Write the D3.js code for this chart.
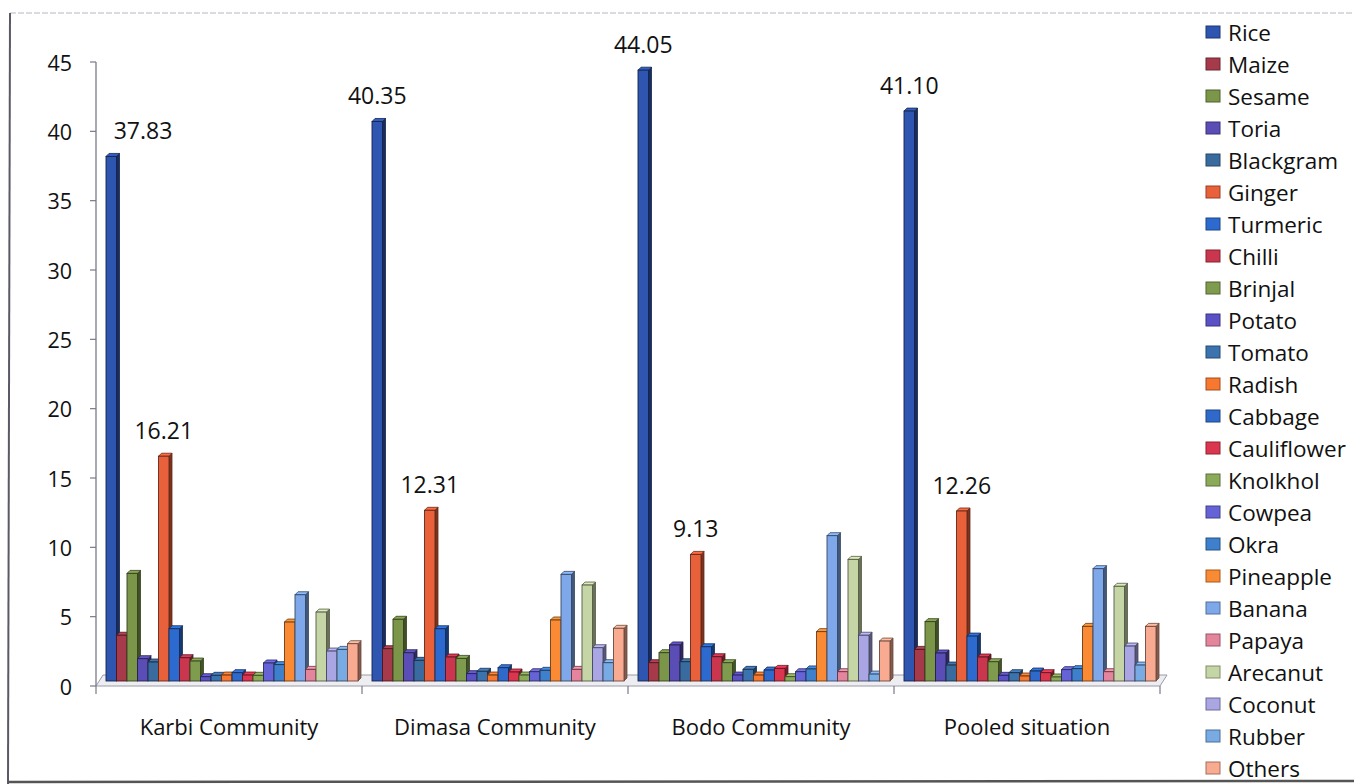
<!DOCTYPE html>
<html>
<head>
<meta charset="utf-8">
<script src="https://cdn.jsdelivr.net/npm/d3@7"></script>
<style>
  html, body { margin: 0; padding: 0; background: #fff; }
  svg { display: block; }
  text { font-family: "Open Sans", "Noto Sans", sans-serif; fill: #111; }
</style>
</head>
<body>
<svg id="chart" width="1354" height="784"></svg>
<script>
// Share of cropped area by crop (%), for each community and the pooled sample
const categories = ["Karbi Community", "Dimasa Community", "Bodo Community", "Pooled situation"];

const crops = ["Rice", "Maize", "Sesame", "Toria", "Blackgram", "Ginger", "Turmeric", "Chilli",
  "Brinjal", "Potato", "Tomato", "Radish", "Cabbage", "Cauliflower", "Knolkhol", "Cowpea",
  "Okra", "Pineapple", "Banana", "Papaya", "Arecanut", "Coconut", "Rubber", "Others"];

const cropColors = ["#2e55b0", "#a63a4a", "#7b9648", "#5a4db5", "#3a6b9e", "#e8613a", "#2c6acf", "#c9364e",
  "#7e9b4e", "#5b51c4", "#3c72ae", "#f7782e", "#2f6acb", "#dc3550", "#8cab59", "#6663d6",
  "#3f80cc", "#fa8a33", "#7ea8ea", "#e4849d", "#c6d5a5", "#a9a6e3", "#78aae4", "#f9ab92"];

const karbi  = [37.83, 3.30, 7.76, 1.61, 1.37, 16.21, 3.77, 1.68, 1.44, 0.31, 0.41, 0.43,
  0.60, 0.43, 0.41, 1.30, 1.18, 4.25, 6.22, 0.84, 4.97, 2.16, 2.28, 2.69];
const dimasa = [40.35, 2.33, 4.45, 2.04, 1.49, 12.31, 3.77, 1.73, 1.63, 0.53, 0.70, 0.43,
  0.96, 0.65, 0.43, 0.67, 0.77, 4.40, 7.69, 0.84, 6.92, 2.40, 1.32, 3.80];
const bodo   = [44.05, 1.32, 2.04, 2.60, 1.39, 9.13, 2.47, 1.75, 1.32, 0.43, 0.84, 0.43,
  0.79, 0.91, 0.31, 0.67, 0.87, 3.56, 10.48, 0.67, 8.77, 3.30, 0.50, 2.88];
const pooled = [41.10, 2.28, 4.28, 2.02, 1.15, 12.26, 3.24, 1.73, 1.39, 0.41, 0.60, 0.36,
  0.72, 0.60, 0.29, 0.82, 0.89, 3.94, 8.10, 0.67, 6.83, 2.52, 1.15, 3.94];

const yTicks = [0, 5, 10, 15, 20, 25, 30, 35, 40, 45];
const labelledCrops = ["Rice", "Ginger"];

const seriesByCategory = [karbi, dimasa, bodo, pooled];

// ---- layout ----
const svg = d3.select("#chart");
const axisX = 96;
const lift = 5;      // bars stand mid-way back on the 3-D floor
const depth = 3;     // visible thickness of the bar sides and tops

const y = d3.scaleLinear().domain([0, 45]).range([686, 62]);
const x0 = d3.scaleBand().domain(categories).range([axisX, 1160]);
const x1 = d3.scaleBand().domain(crops).range([10, 262]);
const color = d3.scaleOrdinal().domain(crops).range(cropColors);

// outer frame
svg.append("line").attr("x1", 10).attr("y1", 13).attr("x2", 1354).attr("y2", 13)
  .attr("stroke", "#b8b8c0").attr("stroke-width", 1.2).attr("stroke-dasharray", "6,2");
svg.append("line").attr("x1", 10).attr("y1", 13).attr("x2", 8).attr("y2", 784)
  .attr("stroke", "#5a5a66").attr("stroke-width", 2);
svg.append("line").attr("x1", 8).attr("y1", 782).attr("x2", 1354).attr("y2", 781)
  .attr("stroke", "#555").attr("stroke-width", 2.5);

// floor of the 3-D plot
const floorPts = [[axisX, 686], [1160, 686], [1167, 675], [axisX + 7, 675]];
svg.append("polygon")
  .attr("points", floorPts.map(p => p.join(",")).join(" "))
  .attr("fill", "#eeeef2").attr("stroke", "#9a9aa8").attr("stroke-width", 1);

// value axis
svg.append("line").attr("x1", axisX).attr("x2", axisX).attr("y1", y(45)).attr("y2", y(0))
  .attr("stroke", "#7a7a88").attr("stroke-width", 1.3);
const yt = svg.append("g");
yt.selectAll("line").data(yTicks).join("line")
  .attr("x1", axisX - 6).attr("x2", axisX).attr("y1", d => y(d)).attr("y2", d => y(d))
  .attr("stroke", "#7a7a88").attr("stroke-width", 1.2);
yt.selectAll("text").data(yTicks).join("text")
  .attr("x", 72).attr("y", d => y(d)).attr("text-anchor", "end")
  .attr("dominant-baseline", "central").attr("font-size", 21.5).text(d => d);

// category axis ticks and labels
const bounds = categories.map(c => x0(c)).concat([x0.range()[1]]);
svg.append("g").selectAll("line").data(bounds).join("line")
  .attr("x1", d => d).attr("x2", d => d).attr("y1", 686).attr("y2", 694)
  .attr("stroke", "#7a7a88").attr("stroke-width", 1.2);
svg.append("g").selectAll("text").data(categories).join("text")
  .attr("x", d => x0(d) + x0.bandwidth() / 2).attr("y", 726)
  .attr("text-anchor", "middle").attr("dominant-baseline", "central")
  .attr("font-size", 22).text(d => d);

// bars with a front face, a shaded side and a lighter top
const bw = x1.bandwidth();
const groups = svg.append("g").selectAll("g").data(categories).join("g")
  .attr("transform", d => `translate(${x0(d)},0)`);

groups.each(function (cat, ci) {
  const vals = seriesByCategory[ci];
  const g = d3.select(this);
  crops.forEach((crop, i) => {
    const v = vals[i];
    const c = d3.color(color(crop));
    const xl = x1(crop);
    const top = y(v) - lift;
    const base = y(0) - lift;
    const edge = c.darker(2.4).formatHex();
    const bar = g.append("g");
    bar.append("polygon")
      .attr("points", [[xl + bw, top], [xl + bw + depth, top - depth], [xl + bw + depth, base - depth], [xl + bw, base]].map(p => p.join(",")).join(" "))
      .attr("fill", c.darker(1.8).formatHex()).attr("stroke", edge).attr("stroke-width", 0.8);
    bar.append("polygon")
      .attr("points", [[xl, top], [xl + depth, top - depth], [xl + bw + depth, top - depth], [xl + bw, top]].map(p => p.join(",")).join(" "))
      .attr("fill", c.brighter(0.3).formatHex()).attr("stroke", edge).attr("stroke-width", 0.8);
    bar.append("rect")
      .attr("x", xl).attr("y", top).attr("width", bw).attr("height", base - top)
      .attr("fill", c.formatHex()).attr("stroke", edge).attr("stroke-width", 0.9);
  });
});

// value labels for rice and ginger
const labelData = [];
categories.forEach((cat, ci) => {
  labelledCrops.forEach(crop => {
    const i = crops.indexOf(crop);
    labelData.push({ cat, crop, v: seriesByCategory[ci][i] });
  });
});
svg.append("g").selectAll("text").data(labelData).join("text")
  .attr("x", d => Math.max(x0(d.cat) + x1(d.crop) + bw / 2, axisX + 47))
  .attr("y", d => y(d.v) - lift - 26)
  .attr("text-anchor", "middle").attr("dominant-baseline", "central")
  .attr("font-size", 23).text(d => d.v.toFixed(2));

// legend
const legend = svg.append("g").attr("transform", "translate(1206,32)");
const rows = legend.selectAll("g").data(crops).join("g")
  .attr("transform", (d, i) => `translate(0,${i * 32})`);
rows.append("rect").attr("x", 0).attr("y", -6).attr("width", 14).attr("height", 12)
  .attr("fill", d => color(d)).attr("stroke", d => d3.color(color(d)).darker(1.2).formatHex())
  .attr("stroke-width", 1);
rows.append("text").attr("x", 22).attr("y", 0).attr("dominant-baseline", "central")
  .attr("font-size", 22.5).text(d => d);
</script>
</body>
</html>
